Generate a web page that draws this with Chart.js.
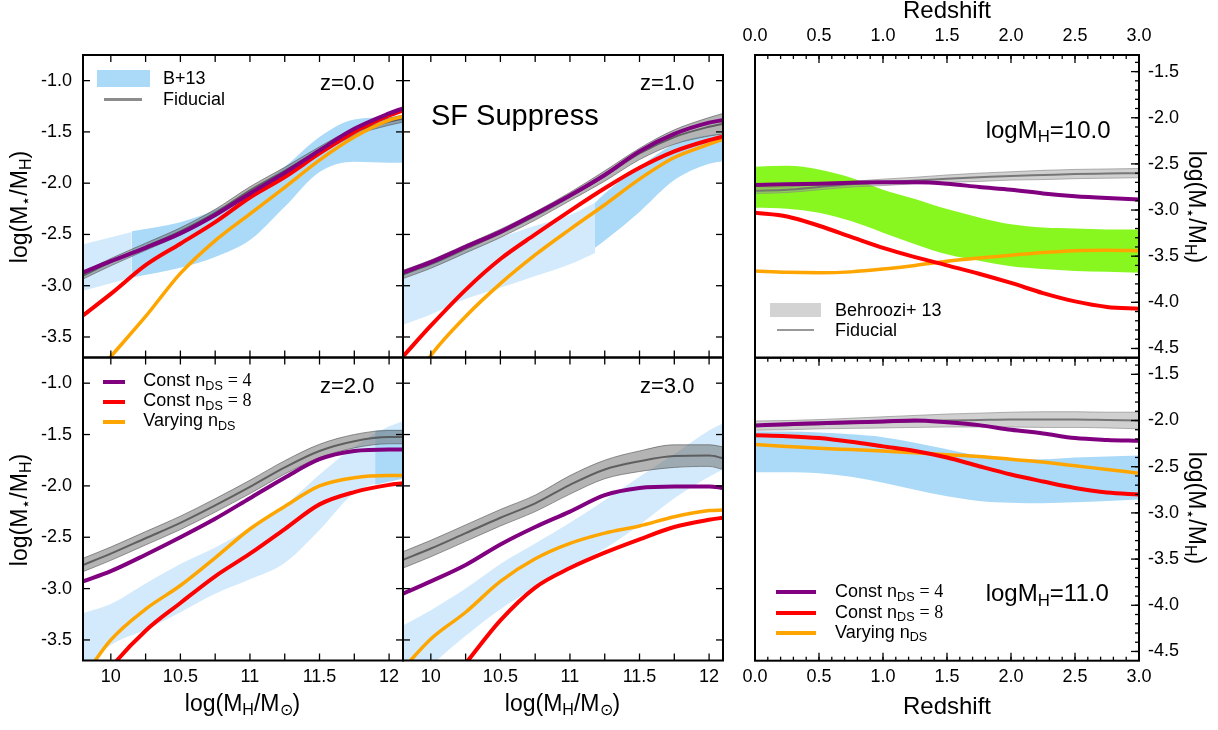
<!DOCTYPE html>
<html>
<head>
<meta charset="utf-8">
<script src="https://cdn.jsdelivr.net/npm/chart.js@4.4.1/dist/chart.umd.min.js"></script>
<style>
  html, body { margin: 0; padding: 0; background: #fff; }
  #wrap { position: relative; width: 1218px; height: 730px; overflow: hidden; font-family: 'Liberation Sans', Arial, sans-serif; color: #000; }
  #wrap canvas { position: absolute; left: 0; top: 0; }
  .t { position: absolute; white-space: nowrap; line-height: 1; }
  .s { font-size: 0.7em; position: relative; top: 0.25em; }
  .cm { font-family: 'Liberation Serif', 'DejaVu Serif', serif; }
  .sw { position: absolute; }
</style>
</head>
<body>
<div id="wrap">
  <canvas id="c1" width="1218" height="730"></canvas>
  <canvas id="c2" width="1218" height="730"></canvas>
  <canvas id="c3" width="1218" height="730"></canvas>
  <canvas id="c4" width="1218" height="730"></canvas>
  <canvas id="c5" width="1218" height="730"></canvas>
  <canvas id="c6" width="1218" height="730"></canvas>
</div>
<script>
// ---- left panels: stellar-to-halo mass ratio vs halo mass ----
const massGrid = [9.8, 10.0, 10.25, 10.5, 10.75, 11.0, 11.25, 11.5, 11.75, 12.0, 12.1];
const massTicks = [10, 10.5, 11, 11.5, 12];
const ratioTicks = [-3.5, -3.0, -2.5, -2.0, -1.5, -1.0];

// z = 0.0
const z0Purple = [-2.87, -2.76, -2.63, -2.49, -2.31, -2.10, -1.90, -1.68, -1.47, -1.32, -1.27];
const z0Red    = [-3.29, -3.08, -2.80, -2.59, -2.38, -2.14, -1.94, -1.71, -1.50, -1.34, -1.29];
const z0Orange = [-4.00, -3.69, -3.30, -2.88, -2.56, -2.30, -2.04, -1.775, -1.55, -1.385, -1.35];
const z0Fid    = [-2.90, -2.77, -2.62, -2.47, -2.29, -2.07, -1.88, -1.68, -1.50, -1.40, -1.37];
const z0FidHi  = [-2.865, -2.735, -2.585, -2.435, -2.255, -2.035, -1.845, -1.645, -1.465, -1.365, -1.335];
const z0FidLo  = [-2.935, -2.805, -2.655, -2.505, -2.325, -2.105, -1.915, -1.715, -1.535, -1.435, -1.405];
const z0LightX = [9.8, 10.15];
const z0LightHi = [-2.595, -2.475];
const z0LightLo = [-3.05, -2.92];
const z0DarkX  = [10.15, 10.5, 10.75, 11.0, 11.25, 11.5, 11.75, 12.0, 12.1];
const z0DarkHi = [-2.47, -2.38, -2.26, -2.08, -1.84, -1.55, -1.38, -1.36, -1.36];
const z0DarkLo = [-2.92, -2.825, -2.72, -2.555, -2.23, -1.89, -1.79, -1.80, -1.80];

// z = 1.0
const z1Purple = [-2.87, -2.77, -2.62, -2.475, -2.30, -2.12, -1.92, -1.69, -1.52, -1.41, -1.385];
const z1Red    = [-3.69, -3.39, -3.04, -2.74, -2.50, -2.27, -2.05, -1.85, -1.69, -1.58, -1.545];
const z1Orange = [-4.10, -3.68, -3.30, -2.98, -2.70, -2.45, -2.21, -1.96, -1.75, -1.62, -1.57];
const z1Fid    = [-2.89, -2.79, -2.64, -2.49, -2.32, -2.13, -1.93, -1.71, -1.55, -1.45, -1.42];
const z1FidHi  = [-2.85, -2.75, -2.60, -2.45, -2.28, -2.09, -1.88, -1.66, -1.48, -1.36, -1.32];
const z1FidLo  = [-2.93, -2.83, -2.68, -2.53, -2.36, -2.17, -1.98, -1.77, -1.62, -1.54, -1.52];
const z1LightX = [9.8, 10.0, 10.25, 10.5, 10.75, 11.0, 11.18];
const z1LightHi = [-2.89, -2.79, -2.66, -2.53, -2.415, -2.31, -2.19];
const z1LightLo = [-3.38, -3.28, -3.13, -3.02, -2.905, -2.79, -2.68];
const z1DarkX  = [11.18, 11.25, 11.5, 11.75, 12.0, 12.1];
const z1DarkHi = [-2.19, -2.10, -1.84, -1.62, -1.53, -1.52];
const z1DarkLo = [-2.63, -2.56, -2.28, -1.97, -1.81, -1.785];

// z = 2.0
const z2Purple = [-2.93, -2.83, -2.67, -2.50, -2.32, -2.12, -1.92, -1.74, -1.66, -1.645, -1.645];
const z2Red    = [-4.15, -3.77, -3.41, -3.14, -2.88, -2.66, -2.42, -2.18, -2.06, -1.99, -1.975];
const z2Orange = [-3.87, -3.50, -3.20, -2.97, -2.70, -2.42, -2.20, -2.00, -1.92, -1.90, -1.90];
const z2Fid    = [-2.77, -2.66, -2.51, -2.36, -2.19, -2.01, -1.82, -1.66, -1.565, -1.525, -1.525];
const z2FidHi  = [-2.705, -2.595, -2.445, -2.295, -2.125, -1.945, -1.755, -1.595, -1.50, -1.46, -1.46];
const z2FidLo  = [-2.835, -2.725, -2.575, -2.425, -2.255, -2.075, -1.885, -1.725, -1.63, -1.59, -1.59];
const z2LightHi = [-3.24, -3.15, -2.95, -2.76, -2.60, -2.41, -2.19, -1.89, -1.62, -1.42, -1.37];
const z2LightLo = [-3.80, -3.55, -3.40, -3.23, -3.05, -2.91, -2.75, -2.43, -2.07, -1.94, -1.90];
const z2DarkX  = [11.9, 12.0, 12.1];
const z2DarkHi = [-1.46, -1.45, -1.45];
const z2DarkLo = [-1.99, -1.96, -1.93];

// z = 3.0
const z3Purple = [-3.05, -2.93, -2.77, -2.57, -2.40, -2.25, -2.09, -2.02, -2.005, -2.005, -2.02];
const z3Red    = [-4.50, -4.15, -3.73, -3.31, -2.99, -2.80, -2.65, -2.52, -2.40, -2.33, -2.31];
const z3Orange = [-3.78, -3.49, -3.23, -2.93, -2.71, -2.56, -2.46, -2.39, -2.30, -2.24, -2.235];
const z3Fid    = [-2.72, -2.61, -2.46, -2.31, -2.17, -1.99, -1.84, -1.76, -1.71, -1.705, -1.73];
const z3FidHi  = [-2.64, -2.53, -2.38, -2.23, -2.09, -1.90, -1.75, -1.66, -1.60, -1.60, -1.62];
const z3FidLo  = [-2.80, -2.69, -2.54, -2.39, -2.25, -2.08, -1.93, -1.86, -1.82, -1.81, -1.84];
const z3LightHi = [-3.36, -3.21, -3.00, -2.76, -2.56, -2.36, -2.14, -1.91, -1.69, -1.46, -1.39];
const z3LightLo = [-4.00, -3.75, -3.46, -3.20, -2.99, -2.79, -2.61, -2.38, -2.12, -1.91, -1.84];

// ---- right panels: ratio vs redshift ----
const zGrid = [0, 0.25, 0.5, 0.75, 1.0, 1.25, 1.5, 1.75, 2.0, 2.25, 2.5, 2.75, 3.0];
const zTicks = [0, 0.5, 1.0, 1.5, 2.0, 2.5, 3.0];
const rightTicks = [-4.5, -4.0, -3.5, -3.0, -2.5, -2.0, -1.5];

// logMH = 10.0
const m10Purple = [-2.73, -2.72, -2.715, -2.705, -2.70, -2.70, -2.715, -2.75, -2.78, -2.82, -2.85, -2.87, -2.885];
const m10Red    = [-3.03, -3.07, -3.17, -3.29, -3.41, -3.51, -3.60, -3.69, -3.79, -3.90, -3.99, -4.05, -4.07];
const m10Orange = [-3.66, -3.675, -3.68, -3.67, -3.64, -3.60, -3.555, -3.52, -3.49, -3.46, -3.44, -3.435, -3.44];
const m10Fid    = [-2.79, -2.78, -2.75, -2.72, -2.70, -2.68, -2.66, -2.645, -2.63, -2.62, -2.61, -2.605, -2.60];
const m10FidHi  = [-2.76, -2.75, -2.72, -2.69, -2.665, -2.645, -2.62, -2.60, -2.585, -2.57, -2.56, -2.555, -2.55];
const m10FidLo  = [-2.82, -2.81, -2.78, -2.75, -2.735, -2.715, -2.70, -2.69, -2.675, -2.67, -2.66, -2.655, -2.65];
const m10GreenHi = [-2.53, -2.52, -2.56, -2.65, -2.78, -2.88, -2.99, -3.08, -3.155, -3.19, -3.20, -3.21, -3.21];
const m10GreenLo = [-2.975, -2.985, -3.03, -3.12, -3.245, -3.37, -3.48, -3.55, -3.61, -3.64, -3.66, -3.67, -3.68];

// logMH = 11.0
const m11Purple = [-2.054, -2.04, -2.03, -2.02, -2.01, -2.0, -2.02, -2.05, -2.10, -2.14, -2.19, -2.21, -2.22];
const m11Red    = [-2.16, -2.17, -2.19, -2.23, -2.28, -2.33, -2.40, -2.495, -2.585, -2.66, -2.73, -2.78, -2.80];
const m11Orange = [-2.26, -2.28, -2.30, -2.315, -2.33, -2.35, -2.37, -2.39, -2.42, -2.45, -2.49, -2.53, -2.57];
const m11Fid    = [-2.054, -2.05, -2.04, -2.03, -2.02, -2.01, -2.0, -1.995, -1.99, -1.99, -1.99, -1.995, -2.0];
const m11FidHi  = [-2.005, -2.0, -1.99, -1.975, -1.96, -1.945, -1.93, -1.92, -1.91, -1.905, -1.905, -1.91, -1.91];
const m11FidLo  = [-2.105, -2.10, -2.09, -2.085, -2.08, -2.075, -2.07, -2.07, -2.07, -2.075, -2.075, -2.08, -2.09];
const m11BlueHi = [-2.115, -2.12, -2.13, -2.15, -2.18, -2.24, -2.31, -2.38, -2.42, -2.42, -2.40, -2.39, -2.38];
const m11BlueLo = [-2.56, -2.56, -2.57, -2.61, -2.675, -2.75, -2.82, -2.87, -2.89, -2.895, -2.885, -2.87, -2.855];

const PURPLE = '#800080', RED = '#ff0000', ORANGE = '#ffa500';
const BLUE_DARK = 'rgb(170,218,248)', BLUE_LIGHT = 'rgb(210,234,251)', GREEN = 'rgb(136,247,32)';
const FONT = "'Liberation Sans', Arial, sans-serif";
const W_AX = 60, H_AX = 40;

function pts(xs, ys) { return xs.map((x, i) => ({x: x, y: ys[i]})); }

function line(xs, ys, color, width, order) {
  return { data: pts(xs, ys), borderColor: color, borderWidth: width, pointRadius: 0,
           fill: false, cubicInterpolationMode: 'monotone', clip: 0, order: order };
}

function band(xs, hi, lo, color, edge, order) {
  const common = { pointRadius: 0, cubicInterpolationMode: 'monotone', clip: 0, order: order,
                   borderColor: edge || 'rgba(0,0,0,0)', borderWidth: edge ? 1 : 0 };
  return [
    Object.assign({ data: pts(xs, hi), backgroundColor: color, fill: '+1' }, common),
    Object.assign({ data: pts(xs, lo), fill: false }, common)
  ];
}

function fidLeft(c, hi, lo) {
  return band(massGrid, hi, lo, 'rgba(105,105,105,0.5)', 'rgba(80,80,80,0.6)', 5)
    .concat([line(massGrid, c, 'rgba(75,75,75,0.8)', 2, 4)]);
}
function fidRight(c, hi, lo) {
  return band(zGrid, hi, lo, 'rgba(150,150,150,0.45)', 'rgba(130,130,130,0.6)', 5)
    .concat([line(zGrid, c, 'rgba(110,110,110,0.9)', 2, 4)]);
}

// inward tick marks and the black frame, placed through the chart's own scales
const framePlugin = {
  id: 'frame',
  afterDraw(chart, args, o) {
    const ctx = chart.ctx, a = chart.chartArea, sx = chart.scales.x, sy = chart.scales.y;
    ctx.save();
    ctx.strokeStyle = '#000';
    ctx.lineWidth = 1.3;
    const seg = (x1, y1, x2, y2) => { ctx.beginPath(); ctx.moveTo(x1, y1); ctx.lineTo(x2, y2); ctx.stroke(); };
    o.xTicks.forEach(([vals, len]) => vals.forEach(v => {
      const p = sx.getPixelForValue(v);
      if (p < a.left + 1 || p > a.right - 1) return;
      if (o.top) seg(p, a.top, p, a.top + len);
      if (o.bottom) seg(p, a.bottom, p, a.bottom - len);
    }));
    o.yTicks.forEach(([vals, len]) => vals.forEach(v => {
      const p = sy.getPixelForValue(v);
      if (p < a.top + 1 || p > a.bottom - 1) return;
      if (o.left) seg(a.left, p, a.left + len, p);
      if (o.right) seg(a.right, p, a.right - len, p);
    }));
    ctx.lineWidth = 2;
    ctx.strokeRect(a.left, a.top, a.right - a.left, a.bottom - a.top);
    ctx.restore();
  }
};

function steps(from, to, step) {
  const out = [];
  for (let v = from; v <= to + 1e-9; v += step) out.push(Math.round(v * 100) / 100);
  return out;
}

function panel(id, area, xr, yr, axes, xTickVals, yTickVals, xFmt, datasets, frame) {
  const pad = {
    left: area.l - (axes.y === 'left' ? W_AX : 0),
    right: 1218 - area.r - (axes.y === 'right' ? W_AX : 0),
    top: area.t - (axes.x === 'top' ? H_AX : 0),
    bottom: 730 - area.b - (axes.x === 'bottom' ? H_AX : 0)
  };
  const tickFont = { family: FONT, size: 18 };
  new Chart(document.getElementById(id), {
    type: 'line',
    data: { datasets: datasets },
    options: {
      responsive: false, animation: false, devicePixelRatio: 1, events: [],
      layout: { padding: pad, autoPadding: false },
      plugins: { legend: { display: false }, tooltip: { enabled: false }, frame: frame },
      scales: {
        x: {
          type: 'linear', min: xr[0], max: xr[1], position: axes.x || 'bottom', display: !!axes.x,
          grid: { display: false, drawTicks: false }, border: { display: false },
          ticks: { color: '#000', font: tickFont, padding: axes.x === 'top' ? 8 : 5.5,
                   autoSkip: false, maxRotation: 0, callback: xFmt },
          afterBuildTicks: s => { s.ticks = xTickVals.map(v => ({ value: v })); },
          afterFit: s => { s.height = axes.x ? H_AX : 0; }
        },
        y: {
          type: 'linear', min: yr[0], max: yr[1], position: axes.y || 'left', display: !!axes.y,
          grid: { display: false, drawTicks: false }, border: { display: false },
          ticks: { color: '#000', font: tickFont, padding: axes.y === 'right' ? 9 : 11,
                   autoSkip: false, callback: v => v.toFixed(1) },
          afterBuildTicks: s => { s.ticks = yTickVals.map(v => ({ value: v })); },
          afterFit: s => { s.width = axes.y ? W_AX : 0; }
        }
      }
    },
    plugins: [framePlugin]
  });
}

const massRange = [9.8, 12.1], ratioRange = [-3.7, -0.75];
const zRange = [0, 3], rightRange = [-4.6, -1.32];
const massFmt = v => String(v);
const zFmt = v => v.toFixed(1);
const leftFrame = { top: true, bottom: true, left: true, right: true,
  xTicks: [[steps(10, 12, 0.25), 7]], yTicks: [[ratioTicks, 7]] };
const rightMinorX = steps(0, 3, 0.1), rightMinorY = steps(-4.6, -1.4, 0.1);

function lines(xs, p, r, o, w) {
  return [line(xs, p, PURPLE, w, 1), line(xs, r, RED, w, 2), line(xs, o, ORANGE, w - 0.5, 3)];
}

panel('c1', { l: 83, t: 55, r: 403, b: 357.5 }, massRange, ratioRange, { x: null, y: 'left' },
  massTicks, ratioTicks, massFmt,
  band(z0LightX, z0LightHi, z0LightLo, BLUE_LIGHT, null, 10)
    .concat(band(z0DarkX, z0DarkHi, z0DarkLo, BLUE_DARK, null, 9))
    .concat(fidLeft(z0Fid, z0FidHi, z0FidLo))
    .concat(lines(massGrid, z0Purple, z0Red, z0Orange, 4)),
  leftFrame);

panel('c2', { l: 403, t: 55, r: 723, b: 357.5 }, massRange, ratioRange, { x: null, y: null },
  massTicks, ratioTicks, massFmt,
  band(z1LightX, z1LightHi, z1LightLo, BLUE_LIGHT, null, 10)
    .concat(band(z1DarkX, z1DarkHi, z1DarkLo, BLUE_DARK, null, 9))
    .concat(fidLeft(z1Fid, z1FidHi, z1FidLo))
    .concat(lines(massGrid, z1Purple, z1Red, z1Orange, 4)),
  leftFrame);

panel('c3', { l: 83, t: 357.5, r: 403, b: 660.5 }, massRange, ratioRange, { x: 'bottom', y: 'left' },
  massTicks, ratioTicks, massFmt,
  band(massGrid, z2LightHi, z2LightLo, BLUE_LIGHT, null, 10)
    .concat(band(z2DarkX, z2DarkHi, z2DarkLo, BLUE_DARK, null, 9))
    .concat(fidLeft(z2Fid, z2FidHi, z2FidLo))
    .concat(lines(massGrid, z2Purple, z2Red, z2Orange, 4)),
  leftFrame);

panel('c4', { l: 403, t: 357.5, r: 723, b: 660.5 }, massRange, ratioRange, { x: 'bottom', y: null },
  massTicks, ratioTicks, massFmt,
  band(massGrid, z3LightHi, z3LightLo, BLUE_LIGHT, null, 10)
    .concat(fidLeft(z3Fid, z3FidHi, z3FidLo))
    .concat(lines(massGrid, z3Purple, z3Red, z3Orange, 4)),
  leftFrame);

panel('c5', { l: 755, t: 55, r: 1139, b: 357.7 }, zRange, rightRange, { x: 'top', y: 'right' },
  zTicks, rightTicks, zFmt,
  band(zGrid, m10GreenHi, m10GreenLo, GREEN, null, 10)
    .concat(fidRight(m10Fid, m10FidHi, m10FidLo))
    .concat(lines(zGrid, m10Purple, m10Red, m10Orange, 4)),
  { top: true, bottom: false, left: false, right: true,
    xTicks: [[rightMinorX, 4], [zTicks, 8]], yTicks: [[rightMinorY, 4], [rightTicks, 8]] });

panel('c6', { l: 755, t: 357.7, r: 1139, b: 660.7 }, zRange, rightRange, { x: 'bottom', y: 'right' },
  zTicks, rightTicks, zFmt,
  band(zGrid, m11BlueHi, m11BlueLo, BLUE_DARK, null, 10)
    .concat(fidRight(m11Fid, m11FidHi, m11FidLo))
    .concat(lines(zGrid, m11Purple, m11Red, m11Orange, 4)),
  { top: true, bottom: true, left: false, right: true,
    xTicks: [[rightMinorX, 4], [zTicks, 8]], yTicks: [[rightMinorY, 4], [rightTicks, 8]] });

// ---- text and legends ----
const wrap = document.getElementById('wrap');
function text(html, x, base, size, center) {
  const d = document.createElement('div');
  d.className = 't';
  d.innerHTML = html;
  d.style.fontSize = size + 'px';
  d.style.left = x + 'px';
  d.style.top = (base - 0.8465 * size) + 'px';
  if (center) d.style.transform = 'translateX(-50%)';
  wrap.appendChild(d);
}
function rotText(html, cx, cy, size, deg) {
  const d = document.createElement('div');
  d.className = 't';
  d.innerHTML = html;
  d.style.fontSize = size + 'px';
  d.style.left = cx + 'px';
  d.style.top = cy + 'px';
  d.style.transform = 'translate(-50%,-50%) rotate(' + deg + 'deg)';
  wrap.appendChild(d);
}
function swatch(x, y, w, h, color) {
  const d = document.createElement('div');
  d.className = 'sw';
  Object.assign(d.style, { left: x + 'px', top: y + 'px', width: w + 'px', height: h + 'px', background: color });
  wrap.appendChild(d);
}

const yTitle = 'log(M<span class="s">⋆</span>/M<span class="s">H</span>)';
const xTitle = 'log(M<span class="s">H</span>/M<span class="s">⊙</span>)';
const nds = 'n<span class="s">DS</span>';

text('z=0.0', 320, 90.7, 22);
text('z=1.0', 640, 90.7, 22);
text('SF Suppress', 431, 126, 29);
text('z=2.0', 320, 394, 22);
text('z=3.0', 640, 394, 22);
text('logM<span class="s">H</span>=10.0', 985.7, 138.3, 24);
text('logM<span class="s">H</span>=11.0', 985.7, 601.7, 24);

rotText(yTitle, 19, 207, 23, -90);
rotText(yTitle, 19, 510, 23, -90);
rotText(yTitle, 1196, 207, 23, 90);
rotText(yTitle, 1196, 508, 23, 90);
text(xTitle, 242.5, 711.7, 23, true);
text(xTitle, 562.5, 711.7, 23, true);
text('Redshift', 947, 18.3, 24, true);
text('Redshift', 947, 714.3, 24, true);

// legend, z=0 panel
swatch(97, 70, 53, 17, BLUE_DARK);
swatch(104, 98, 38, 2.5, '#8c8c8c');
text('B+13', 163, 84.5, 18);
text('Fiducial', 163, 105, 18);

// legend, z=2 panel
swatch(103, 380.3, 22, 4, PURPLE);
swatch(103, 400.3, 22, 4, RED);
swatch(103, 420.3, 22, 4, ORANGE);
text('Const ' + nds + ' <span class="cm">= 4</span>', 143.3, 386.7, 18);
text('Const ' + nds + ' <span class="cm">= 8</span>', 143.3, 406.7, 18);
text('Varying ' + nds, 143.3, 426.7, 18);

// legend, logMH=10 panel
swatch(770, 302.7, 51, 14.6, '#d3d3d3');
swatch(776.7, 329, 37.6, 2, '#999');
text('Behroozi+ 13', 835, 316.7, 18);
text('Fiducial', 835, 336.7, 18);

// legend, logMH=11 panel
swatch(775.7, 590.3, 40.3, 4, PURPLE);
swatch(775.7, 611, 40.3, 4, RED);
swatch(775.7, 631.3, 40.3, 4, ORANGE);
text('Const ' + nds + ' <span class="cm">= 4</span>', 835, 597.7, 18);
text('Const ' + nds + ' <span class="cm">= 8</span>', 835, 618.3, 18);
text('Varying ' + nds, 835, 638.3, 18);
</script>
</body>
</html>
